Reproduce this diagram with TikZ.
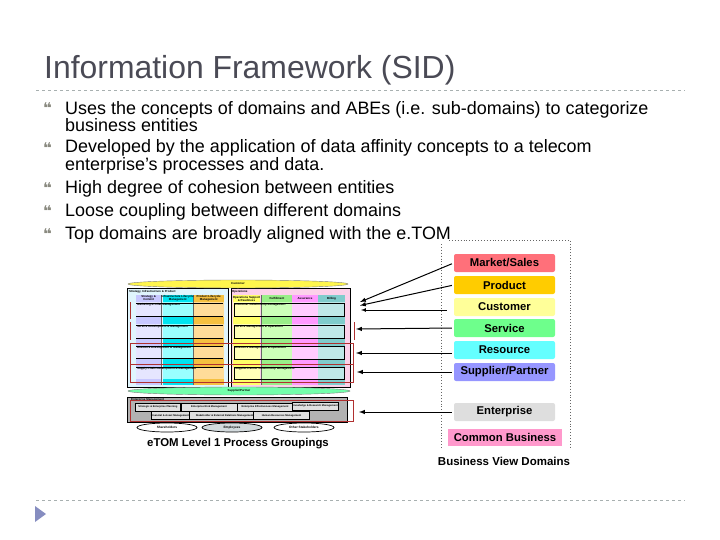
\documentclass[tikz,border=0pt]{standalone}
\usepackage{fontspec}
\setmainfont{Liberation Sans}
\newfontfamily\dejavu{DejaVu Sans}
\definecolor{titlegray}{HTML}{4A4A55}
\definecolor{rulegray}{HTML}{A8B0B0}
\definecolor{markgray}{HTML}{8A8A80}
\definecolor{framered}{HTML}{B03030}
\tikzset{
  body line/.style={anchor=west,inner sep=0pt,font=\fontsize{17.95}{16.4}\selectfont,align=left},
  bullet mark/.style={anchor=center,inner sep=0pt,text=markgray,font=\dejavu\bfseries\fontsize{15}{15}\selectfont},
  domain node/.style={rectangle,rounded corners=2pt,minimum width=101pt,minimum height=18pt,inner sep=0pt,font=\bfseries\fontsize{11.3}{11}\selectfont},
  domain arrow/.style={-latex,line width=1pt,shorten <=2pt},
  tiny text/.style={inner sep=0pt,font=\bfseries\fontsize{2.9}{3}\selectfont},
  row box/.style={draw,line width=.7pt,inner sep=0pt,minimum height=13pt},
  enterprise box/.style={draw,fill=black!12,line width=.4pt,inner sep=0pt,minimum height=8pt,font=\bfseries\fontsize{2.6}{3}\selectfont},
  stake node/.style={ellipse,draw,line width=.7pt,inner sep=0pt,minimum width=60pt,minimum height=9pt,font=\bfseries\fontsize{3.2}{3}\selectfont},
  red frame/.style={draw=framered,line width=.7pt}
}
\usetikzlibrary{shapes.geometric}
\begin{document}
\begin{tikzpicture}[x=1pt,y=-1pt]
\useasboundingbox (0,0) rectangle (720,540);

% title and rules
\node [anchor=west,inner sep=0pt,text=titlegray,font=\fontsize{31.9}{33}\selectfont](title) at (44,70) {Information Framework (SID)};
\coordinate (rule1a) at (36,90.5);
\coordinate (rule1b) at (685,90.5);
\coordinate (rule2a) at (36,500.5);
\coordinate (rule2b) at (685,500.5);
\draw [rulegray,dashed] (rule1a) -- (rule1b);
\draw [rulegray,dashed] (rule2a) -- (rule2b);
\fill [fill=rulegray!80!blue] (35,506) -- (46,514) -- (35,522) -- cycle;

% bullets
\node [body line](b1) at (65,116.5) {Uses the concepts of domains and ABEs (i.e. sub-domains) to categorize\\business entities};
\node [body line](b2) at (65,157) {Developed by the application of data affinity concepts to a telecom\\enterprise’s processes and data.};
\node [body line](b3) at (65,189) {High degree of cohesion between entities};
\node [body line](b4) at (65,212) {Loose coupling between different domains};
\node [body line](b5) at (65,235) {Top domains are broadly aligned with the e.TOM};
\node [bullet mark](m1) at (47.5,108) {❝};
\node [bullet mark](m2) at (47.5,148) {❝};
\node [bullet mark](m3) at (47.5,188) {❝};
\node [bullet mark](m4) at (47.5,211) {❝};
\node [bullet mark](m5) at (47.5,234) {❝};

% eTOM panels
\fill [fill=cyan!12] (127,288) rectangle (228,387);
\fill [fill=magenta!18] (231,288) rectangle (350,387);
\foreach \xa/\xb/\light/\dark in {136/161.5/E6E6FF/C8C8FF,162.5/193/99FFFF/00E4F0,193.5/224/FFDC99/F5C040,233/260/FFFFB8/FFFF66,262/292/CCFFB8/99EE88,292/318/FFCCFF/FF99FF,318/345/BFE8E8/80CCCC}{
  \definecolor{lightcol}{HTML}{\light}
  \definecolor{darkcol}{HTML}{\dark}
  \fill [lightcol] (\xa,295) rectangle (\xb,385);
  \fill [darkcol] (\xa,295) rectangle (\xb,302);
  \fill [darkcol] (\xa,317) rectangle (\xb,324);
  \fill [darkcol] (\xa,338) rectangle (\xb,346);
  \fill [darkcol] (\xa,359) rectangle (\xb,367);
  \fill [darkcol] (\xa,379) rectangle (\xb,385);
}
\draw [line width=.7pt] (127,288) rectangle (228,387);
\draw [line width=.7pt] (231,288) rectangle (350,387);
\draw [black!60,line width=.8pt] (161.8,295) -- (161.8,385);
\draw [black!60,line width=.8pt] (193.2,295) -- (193.2,385);
\draw [black!60,line width=.8pt] (261,295) -- (261,385);

\node [ellipse,draw=black!50,fill=yellow!70,inner sep=0pt,minimum width=220pt,minimum height=8pt,tiny text](customer) at (238,284) {Customer};
\node [ellipse,draw=black!50,fill=green!60!cyan!55,inner sep=0pt,minimum width=222pt,minimum height=8pt,tiny text](supplier) at (239,391) {Supplier/Partner};

\node [tiny text,anchor=west](strategy) at (129,291.5) {Strategy, Infrastructure \& Product};
\node [tiny text,anchor=west](operations) at (232,291.5) {Operations};
\node [tiny text,align=center](h1) at (148.7,298.5) {Strategy \&\\Commit};
\node [tiny text,align=center](h2) at (177.7,298.5) {Infrastructure Lifecycle\\Management};
\node [tiny text,align=center](h3) at (208.7,298.5) {Product Lifecycle\\Management};
\node [tiny text,align=center](h4) at (246.5,298.5) {Operations Support\\\& Readiness};
\node [tiny text](h5) at (277,298.5) {Fulfillment};
\node [tiny text](h6) at (305,298.5) {Assurance};
\node [tiny text](h7) at (331.5,298.5) {Billing};

% row lines, left and right
\node [tiny text,anchor=west](l1) at (137,305) {Marketing \& Offer Management};
\node [tiny text,anchor=west](l2) at (137,326.5) {Service Development \& Management};
\node [tiny text,anchor=west](l3) at (137,348) {Resource Development \& Management};
\node [tiny text,anchor=west](l4) at (137,368.5) {Supply Chain Development \& Management};
\draw [line width=.7pt] (136,303.5) -- (223,303.5) (136,316.5) -- (223,316.5);
\draw [line width=.7pt] (136,325) -- (223,325) (136,338) -- (223,338);
\draw [line width=.7pt] (136,346.5) -- (223,346.5) (136,358.5) -- (223,358.5);
\draw [line width=.7pt] (136,367) -- (223,367);
\node [row box,minimum width=110pt,minimum height=13pt](r1) at (289,310) {};
\node [row box,minimum width=110pt,minimum height=13pt](r2) at (289,331.5) {};
\node [row box,minimum width=110pt,minimum height=13pt](r3) at (289,352.5) {};
\node [row box,minimum width=110pt,minimum height=12pt](r4) at (289,373) {};
\node [tiny text,anchor=west](t1) at (235,305) {Customer Relationship Management};
\node [tiny text,anchor=west](t2) at (235,326.5) {Service Management \& Operations};
\node [tiny text,anchor=west](t3) at (235,348) {Resource Management \& Operations};
\node [tiny text,anchor=west](t4) at (235,368.5) {Supplier/Partner Relationship Management};

% enterprise panel
\draw [fill=black!30,line width=.6pt] (127,397) rectangle (347,422);
\node [tiny text,anchor=west](entlabel) at (131,399.5) {Enterprise Management};
\node [enterprise box,minimum width=45pt](e1) at (158,407) {Strategic \& Enterprise Planning};
\node [enterprise box,minimum width=56pt](e2) at (209,407) {Enterprise Risk Management};
\node [enterprise box,minimum width=56pt](e3) at (265,407) {Enterprise Effectiveness Management};
\node [enterprise box,minimum width=42pt](e4) at (315,406) {Knowledge \& Research Management};
\node [enterprise box,minimum width=34pt](e5) at (170,415.5) {Financial \& Asset Management};
\node [enterprise box,minimum width=71pt](e6) at (224.5,415.5) {Stakeholder \& External Relations Management};
\node [enterprise box,minimum width=56pt](e7) at (281.5,415.5) {Human Resources Management};
\node [stake node](s1) at (167,427.5) {Shareholders};
\node [stake node,fill=cyan!25!black!20](s2) at (232,427.5) {Employees};
\node [stake node](s3) at (304,427.5) {Other Stakeholders};
\node [inner sep=0pt,font=\bfseries\fontsize{11.4}{12}\selectfont](caption) at (238,444) {eTOM Level 1 Process Groupings};

% red frames
\draw [red frame] (130,343.5) rectangle (353,364);
\draw [red frame] (130,364) rectangle (353,382);
\draw [red frame] (130,400.5) rectangle (353,421);
\draw [red frame] (130,302) -- (130,319);
\draw [red frame] (130,322) -- (130,340);
\draw [red frame] (354,322) -- (354,340);

% business view domains
\draw [black!60,dotted,line width=.9pt] (441,244) -- (441,448) (449,240) -- (570,240) -- (570,448);
\node [domain node,fill={rgb,255:red,255;green,112;blue,122}](market) at (504.5,263) {Market/Sales};
\node [domain node,fill={rgb,255:red,255;green,204;blue,0}](product) at (504.5,285) {Product};
\node [domain node,fill={rgb,255:red,255;green,255;blue,153}](custdom) at (504.5,307) {Customer};
\node [domain node,fill={rgb,255:red,110;green,255;blue,140}](service) at (504.5,328) {Service};
\node [domain node,fill={rgb,255:red,100;green,255;blue,255}](resource) at (504.5,350) {Resource};
\node [domain node,fill={rgb,255:red,150;green,150;blue,255}](suppdom) at (504.5,372) {Supplier/Partner};
\node [domain node,fill=black!13](enterprise) at (504.5,412) {Enterprise};
\node [domain node,rounded corners=0pt,minimum width=114pt,minimum height=17pt,fill={rgb,255:red,255;green,153;blue,204}](common) at (505,437.5) {Common Business};
\node [inner sep=0pt,font=\bfseries\fontsize{11.5}{12}\selectfont](domlabel) at (504,461) {Business View Domains};

\coordinate (marketend) at (360,302);
\coordinate (productend) at (360,305.5);
\coordinate (custend) at (361,310);
\coordinate (serviceend) at (356,329);
\coordinate (resourceend) at (356,353);
\coordinate (suppend) at (357,372);
\coordinate (entend) at (359,412);
\draw [domain arrow] (market.west) -- (marketend);
\draw [domain arrow] (product.west) -- (productend);
\draw [domain arrow,line width=.7pt,shorten <=7pt] (custdom.west |- custend) -- (custend);
\draw [domain arrow] (service.west) -- (serviceend);
\draw [domain arrow] (resource.west |- resourceend) -- (resourceend);
\draw [domain arrow] (suppdom.west) -- (suppend);
\draw [domain arrow] (enterprise.west) -- (entend);
\end{tikzpicture}
\end{document}
